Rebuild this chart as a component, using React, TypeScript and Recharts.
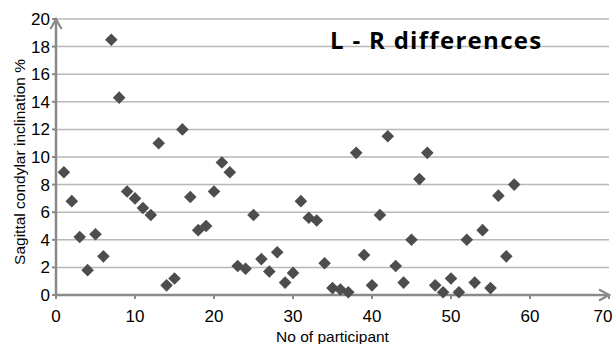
import { CartesianGrid, Scatter, ScatterChart, XAxis, YAxis } from 'recharts'

const participants = [
  1, 2, 3, 4, 5, 6, 7, 8, 9, 10, 11, 12, 13, 14, 15, 16, 17, 18, 19, 20, 21, 22, 23, 24, 25, 26, 27, 28, 29,
  30, 31, 32, 33, 34, 35, 36, 37, 38, 39, 40, 41, 42, 43, 44, 45, 46, 47, 48, 49, 50, 51, 52, 53, 54, 55, 56,
  57, 58,
]

const differences = [
  8.9, 6.8, 4.2, 1.8, 4.4, 2.8, 18.5, 14.3, 7.5, 7.0, 6.3, 5.8, 11.0, 0.7, 1.2, 12.0, 7.1, 4.7, 5.0, 7.5, 9.6,
  8.9, 2.1, 1.9, 5.8, 2.6, 1.7, 3.1, 0.9, 1.6, 6.8, 5.6, 5.4, 2.3, 0.5, 0.4, 0.2, 10.3, 2.9, 0.7, 5.8, 11.5,
  2.1, 0.9, 4.0, 8.4, 10.3, 0.7, 0.2, 1.2, 0.2, 4.0, 0.9, 4.7, 0.5, 7.2, 2.8, 8.0,
]

const xTicks = [0, 10, 20, 30, 40, 50, 60, 70]
const yTicks = [0, 2, 4, 6, 8, 10, 12, 14, 16, 18, 20]

const points = participants.map((p, i) => ({ participant: p, diff: differences[i] }))

const font = 'Liberation Sans, Arial, sans-serif'

const Diamond = (props: any) => {
  const { cx, cy } = props
  const r = 6.3
  return (
    <polygon
      points={`${cx},${cy - r} ${cx + r},${cy} ${cx},${cy + r} ${cx - r},${cy}`}
      fill="#4d4d4d"
    />
  )
}

const XTick = (props: any) => {
  const { x, y, payload } = props
  // last label is pulled in a little so it fits the frame
  const shift = payload.value === 70 ? -6 : 0
  return (
    <text x={x + shift} y={y + 21} textAnchor="middle" fill="#000" fontSize={17} fontFamily={font}>
      {payload.value}
    </text>
  )
}

const YTick = (props: any) => {
  const { x, y, payload } = props
  return (
    <text x={x} y={y + 6} textAnchor="end" fill="#000" fontSize={17} fontFamily={font}>
      {payload.value}
    </text>
  )
}

const YLabel = () => (
  <text
    x={19}
    y={162}
    transform="rotate(-90, 19, 162)"
    textAnchor="middle"
    dominantBaseline="central"
    fill="#000"
    fontSize={15.5}
    fontFamily={font}
  >
    Sagittal condylar inclination %
  </text>
)

export default function App() {
  return (
    <div style={{ position: 'absolute', left: 0, top: 0, width: 614, height: 344, background: '#fff' }}>
      <svg width="0" height="0" style={{ position: 'absolute' }}>
        <defs>
          <marker id="arrowX" viewBox="0 0 14 14" refX="12" refY="7" markerWidth="14" markerHeight="14" markerUnits="userSpaceOnUse" orient="auto">
            <path d="M2,1.5 L12,7 L2,12.5" fill="none" stroke="#8a8a8a" strokeWidth="2.2" />
          </marker>
          <marker id="arrowY" viewBox="0 0 14 14" refX="12" refY="7" markerWidth="14" markerHeight="14" markerUnits="userSpaceOnUse" orient="auto-start-reverse">
            <path d="M2,1.5 L12,7 L2,12.5" fill="none" stroke="#8a8a8a" strokeWidth="2.2" />
          </marker>
        </defs>
      </svg>
      <ScatterChart width={614} height={344} margin={{ top: 19, right: 5, bottom: 19, left: 16 }}>
        <CartesianGrid vertical={false} stroke="#b8b8b8" strokeWidth={1.5} />
        <XAxis
          type="number"
          dataKey="participant"
          domain={[0, 70]}
          ticks={xTicks}
          interval={0}
          height={30}
          axisLine={{ stroke: '#8a8a8a', strokeWidth: 2.5, markerEnd: 'url(#arrowX)' } as any}
          tickLine={{ stroke: '#8a8a8a', strokeWidth: 2 }}
          tickSize={4}
          tick={<XTick />}
          label={{
            value: 'No of participant',
            position: 'insideBottom',
            offset: -17,
            fill: '#000',
            fontSize: 15.5,
            fontFamily: font,
          }}
        />
        <YAxis
          type="number"
          dataKey="diff"
          domain={[0, 20]}
          ticks={yTicks}
          interval={0}
          width={40}
          axisLine={{ stroke: '#8a8a8a', strokeWidth: 2.5, markerStart: 'url(#arrowY)' } as any}
          tickLine={{ stroke: '#8a8a8a', strokeWidth: 2 }}
          tickSize={4}
          tick={<YTick />}
          label={{ content: <YLabel /> } as any}
        />
        <Scatter data={points} shape={Diamond} isAnimationActive={false} />
      </ScatterChart>
      <div
        style={{
          position: 'absolute',
          left: 330,
          top: 23,
          fontFamily: '"Open Sans", sans-serif',
          fontWeight: 700,
          fontSize: 24,
          letterSpacing: 1.3,
          color: '#000',
          whiteSpace: 'nowrap',
        }}
      >
        L - R differences
      </div>
    </div>
  )
}
